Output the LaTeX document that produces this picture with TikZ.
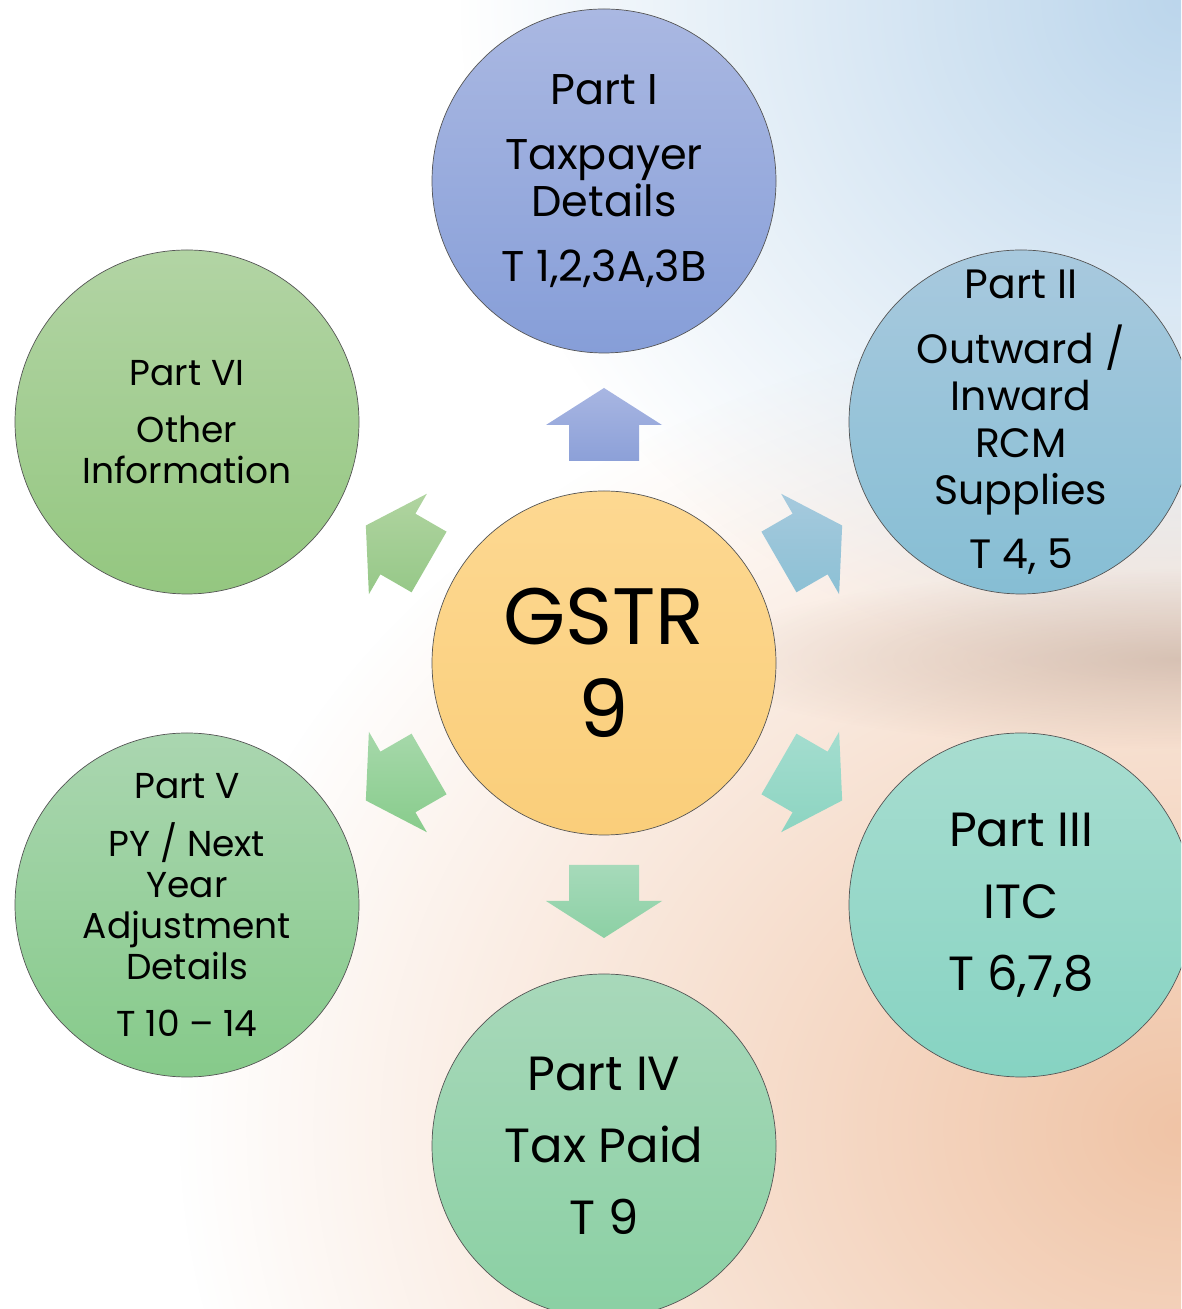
\documentclass[tikz,border=0pt]{standalone}
\usepackage{fontspec}
\setmainfont{Poppins}
\usetikzlibrary{calc,fadings}
\tikzfading[name=blobfade, inner color=transparent!0, outer color=transparent!100]
\definecolor{outl}{RGB}{85,85,85}
\definecolor{ct}{RGB}{253,216,145}\definecolor{cb}{RGB}{250,206,122}
\definecolor{p1t}{RGB}{170,184,226}\definecolor{p1b}{RGB}{134,158,216}
\definecolor{p2t}{RGB}{168,201,222}\definecolor{p2b}{RGB}{134,190,212}
\definecolor{p3t}{RGB}{168,221,208}\definecolor{p3b}{RGB}{134,211,194}
\definecolor{p4t}{RGB}{168,216,186}\definecolor{p4b}{RGB}{138,208,163}
\definecolor{p5t}{RGB}{170,214,176}\definecolor{p5b}{RGB}{134,202,138}
\definecolor{p6t}{RGB}{178,212,164}\definecolor{p6b}{RGB}{148,199,128}
\definecolor{a1t}{RGB}{168,182,226}\definecolor{a1b}{RGB}{140,160,216}
\definecolor{a2t}{RGB}{166,202,222}\definecolor{a2b}{RGB}{140,192,212}
\definecolor{a3t}{RGB}{164,221,207}\definecolor{a3b}{RGB}{140,212,193}
\definecolor{a4t}{RGB}{166,218,186}\definecolor{a4b}{RGB}{140,208,164}
\definecolor{a5t}{RGB}{166,216,170}\definecolor{a5b}{RGB}{136,204,140}
\definecolor{a6t}{RGB}{176,212,160}\definecolor{a6b}{RGB}{150,200,136}
\definecolor{peach}{RGB}{240,196,166}
\definecolor{skyb}{RGB}{188,214,236}
\definecolor{band}{RGB}{190,165,150}
\begin{document}
\begin{tikzpicture}[x=1pt,y=1pt,
  part/.style={circle, minimum size=344pt, inner sep=0pt, draw=outl, line width=0.7pt},
  txt/.style={align=center, text=black, inner sep=0pt},
  blob/.style={path fading=blobfade}]
\useasboundingbox (0,0) rectangle (1181,1309);
\clip (0,0) rectangle (1181,1309);
% background
\fill[white] (0,0) rectangle (1181,1309);
\fill[peach, blob] (1181,180) ellipse [x radius=1000, y radius=820];
\fill[skyb, blob] (1181,1309) ellipse [x radius=720, y radius=680];
\fill[band, blob, opacity=0.55] (1181,650) ellipse [x radius=480, y radius=90];
% circles
\node[part, top color=ct, bottom color=cb] (c) at (604,646) {};
\node[part, top color=p1t, bottom color=p1b] (p1) at (604,1128) {};
\node[part, top color=p2t, bottom color=p2b] (p2) at (1021,887) {};
\node[part, top color=p3t, bottom color=p3b] (p3) at (1021,404) {};
\node[part, top color=p4t, bottom color=p4b] (p4) at (604,163) {};
\node[part, top color=p5t, bottom color=p5b] (p5) at (187,404) {};
\node[part, top color=p6t, bottom color=p6b] (p6) at (187,887) {};
% texts
\node[txt, font=\fontsize{80}{93}\selectfont] (ctx) at (c) {GSTR\\9};
\node[txt, font=\fontsize{43}{47}\selectfont] (p1x) at (p1)
  {Part I\\[18pt]Taxpayer\\Details\\[18pt]T 1,2,3A,3B};
\node[txt, font=\fontsize{41}{47}\selectfont] (p2x) at (p2)
  {Part II\\[18pt]Outward /\\Inward\\RCM\\Supplies\\[17pt]T 4, 5};
\node[txt, font=\fontsize{48}{72}\selectfont] (p3x) at (p3)
  {Part III\\ITC\\T 6,7,8};
\node[txt, font=\fontsize{48}{72}\selectfont] (p4x) at (p4)
  {Part IV\\Tax Paid\\T 9};
\node[txt, font=\fontsize{36}{41}\selectfont] (p5x) at (p5)
  {Part V\\[17pt]PY / Next\\Year\\Adjustment\\Details\\[16pt]T 10 – 14};
\node[txt, font=\fontsize{36}{41}\selectfont] (p6x) at (p6)
  {Part VI\\[16pt]Other\\Information};
% block arrows
\foreach \a/\t/\b in {90/a1t/a1b, 30/a2t/a2b, -30/a3t/a3b, -90/a4t/a4b, -150/a5t/a5b, 150/a6t/a6b}{
  \shade[top color=\t, bottom color=\b]
   ($(c.center)+(\a:202)+(\a+90:35)$) -- ($(c.center)+(\a:238)+(\a+90:35)$) --
   ($(c.center)+(\a:238)+(\a+90:58)$) -- ($(c.center)+(\a:275)$) --
   ($(c.center)+(\a:238)+(\a-90:58)$) -- ($(c.center)+(\a:238)+(\a-90:35)$) --
   ($(c.center)+(\a:202)+(\a-90:35)$) -- cycle;
}
\end{tikzpicture}
\end{document}
